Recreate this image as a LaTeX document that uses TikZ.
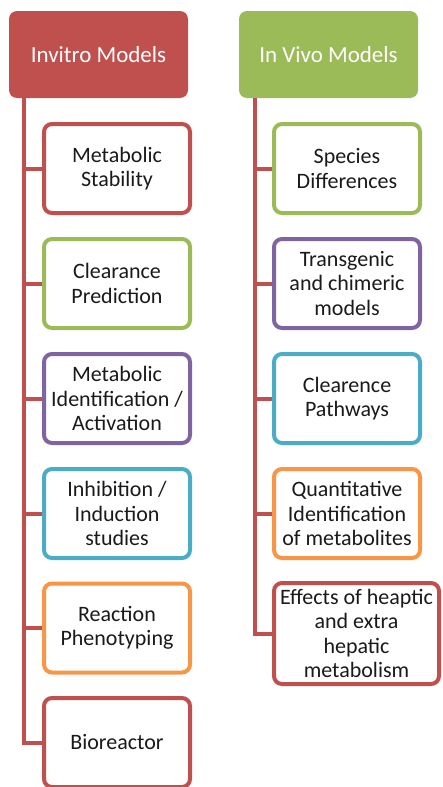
\documentclass[tikz,border=0pt]{standalone}
\usepackage{fontspec}
\setmainfont{Carlito}
\usetikzlibrary{positioning}
\definecolor{ModelRed}{HTML}{C0504D}
\definecolor{ModelGreen}{HTML}{9BBB59}
\definecolor{ModelPurple}{HTML}{8064A2}
\definecolor{ModelAqua}{HTML}{4BACC6}
\definecolor{ModelOrange}{HTML}{F79646}
\definecolor{ModelInk}{HTML}{1A1A1A}
\tikzset{
  every node/.style={font=\fontsize{22}{24.4}\selectfont, text=ModelInk, align=center},
  header/.style={fill=#1, rounded corners=8pt, minimum width=179pt, minimum height=87pt, inner sep=0pt, text=white, font=\fontsize{23}{26}\selectfont},
  item/.style={draw=#1, fill=white, line width=4pt, rounded corners=8pt, minimum width=146pt, minimum height=89pt, inner sep=1pt},
  link/.style={draw=ModelRed, line width=4pt},
}

\begin{document}
\begin{tikzpicture}[x=1pt,y=-1pt]
  \useasboundingbox (0,0) rectangle (443,787);
  % Column headers
  \node[header=ModelRed] (invitro) at (98.5,54.5) {Invitro Models};
  \node[header=ModelGreen] (invivo) at (328.5,54.5) {In Vivo Models};
  \coordinate (trunkL) at (24,0);
  \coordinate (trunkR) at (255,0);
  % In vitro items
  \node[item=ModelRed] (stab) at (117,168.5) {Metabolic\\Stability};
  \node[item=ModelGreen] (clear) at (117,283.5) {Clearance\\Prediction};
  \node[item=ModelPurple] (ident) at (117,398.5) {Metabolic\\Identification /\\Activation};
  \node[item=ModelAqua] (inhib) at (117,513.5) {Inhibition /\\Induction\\studies};
  \node[item=ModelOrange] (pheno) at (117,628) {Reaction\\Phenotyping};
  \node[item=ModelRed] (bioreact) at (117,742.5) {Bioreactor};
  % In vivo items
  \node[item=ModelGreen] (species) at (347,168.5) {Species\\Differences};
  \node[item=ModelPurple] (transg) at (347,283.5) {Transgenic\\and chimeric\\models};
  \node[item=ModelAqua] (pathw) at (347,398.5) {Clearence\\Pathways};
  \node[item=ModelOrange] (quant) at (347,513.5) {Quantitative\\Identification\\of metabolites};
  \node[item=ModelRed, minimum width=165pt, minimum height=101pt] (hepatic) at (356.5,633.5) {Effects of heaptic\\and extra\\hepatic\\metabolism};
  % Trunks and branches
  \foreach \n in {stab,clear,ident,inhib,pheno,bioreact}
    \draw[link] (invitro.south -| trunkL) |- (\n.west);
  \foreach \n in {species,transg,pathw,quant,hepatic}
    \draw[link] (invivo.south -| trunkR) |- (\n.west);
\end{tikzpicture}
\end{document}
